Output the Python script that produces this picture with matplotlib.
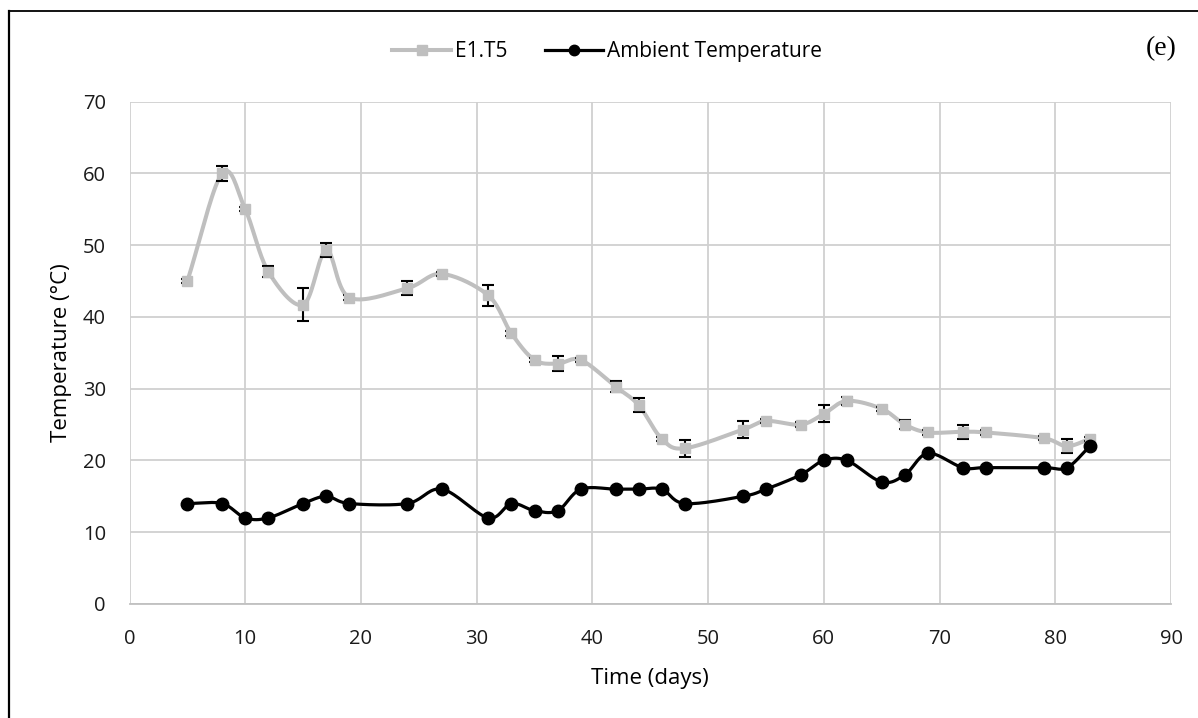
import numpy as np
import matplotlib
matplotlib.use("Agg")
import matplotlib.pyplot as plt
from matplotlib.lines import Line2D

# data
days = [5, 8, 10, 12, 15, 17, 19, 24, 27, 31, 33, 35, 37, 39, 42, 44, 46, 48,
        53, 55, 58, 60, 62, 65, 67, 69, 72, 74, 79, 81, 83]
e1t5 = [45, 60, 55, 46.3, 41.7, 49.3, 42.7, 44, 46, 43, 37.7, 34, 33.5, 34,
        30.3, 27.7, 23, 21.7, 24.3, 25.5, 25, 26.5, 28.3, 27.2, 25, 23.9, 24,
        23.9, 23.1, 22, 23]
e1t5_err = [0.3, 1.1, 0.3, 0.8, 2.3, 1.0, 0.3, 1.0, 0.3, 1.5, 0.3, 0.3, 1.0, 0.3,
            0.8, 1.0, 0.3, 1.2, 1.2, 0.3, 0.3, 1.2, 0.6, 0.3, 0.6, 0.3, 1.0,
            0.3, 0.3, 1.0, 0.3]
ambient = [14, 14, 12, 12, 14, 15, 14, 14, 16, 12, 14, 13, 13, 16, 16, 16, 16,
           14, 15, 16, 18, 20, 20, 17, 18, 21, 19, 19, 19, 19, 22]


def smooth(x, y, n=20):
    # Catmull-Rom style curve like Excel's "smoothed line"
    x = np.asarray(x, float)
    y = np.asarray(y, float)
    px = np.concatenate([[2 * x[0] - x[1]], x, [2 * x[-1] - x[-2]]])
    py = np.concatenate([[2 * y[0] - y[1]], y, [2 * y[-1] - y[-2]]])
    xs, ys = [], []
    t = np.linspace(0, 1, n)
    for i in range(1, len(px) - 2):
        for arr, out in ((px, xs), (py, ys)):
            p0, p1, p2, p3 = arr[i - 1], arr[i], arr[i + 1], arr[i + 2]
            c1 = p1 + (p2 - p0) / 6.0
            c2 = p2 - (p3 - p1) / 6.0
            out.extend((1 - t) ** 3 * p1 + 3 * (1 - t) ** 2 * t * c1
                       + 3 * (1 - t) * t ** 2 * c2 + t ** 3 * p2)
    return np.array(xs), np.array(ys)


plt.rcParams['font.family'] = ['Open Sans', 'DejaVu Sans']

fig = plt.figure(figsize=(11.98, 7.18), dpi=100)
ax = fig.add_axes([0.1081, 0.1588, 0.8694, 0.6996])

grey = '#bfbfbf'
sx, sy = smooth(days, e1t5)
ax.plot(sx, sy, color=grey, lw=2.9, zorder=3)
ax.errorbar(days, e1t5, yerr=e1t5_err, fmt='none', ecolor='black',
            elinewidth=1.5, capsize=4.3, capthick=1.5, zorder=4)
ax.plot(days, e1t5, ls='none', marker='s', ms=7.5, color=grey, zorder=5)

bx, by = smooth(days, ambient)
ax.plot(bx, by, color='black', lw=2.3, zorder=6)
ax.plot(days, ambient, ls='none', marker='o', ms=9, color='black', zorder=7)

ax.set_xlim(0, 90)
ax.set_ylim(0, 70)
ax.set_xticks(np.arange(0, 91, 10))
ax.set_yticks(np.arange(0, 71, 10))
ax.grid(True, color='#d0d0d0', lw=1.3)
ax.set_axisbelow(True)
for s in ['top', 'right', 'left']:
    ax.spines[s].set_visible(False)
ax.spines['bottom'].set_color('#c0c0c0')
ax.spines['bottom'].set_linewidth(1.3)
ax.tick_params(length=0, labelsize=14.5, colors='#1a1a1a')
ax.tick_params(axis='x', pad=18)
ax.tick_params(axis='y', pad=17)
ax.set_xlabel('Time (days)', fontsize=16, labelpad=14)
ax.set_ylabel('Temperature (°C)', fontsize=16, labelpad=8)

handles = [Line2D([], [], color=grey, lw=2.9, marker='s', ms=6.5),
           Line2D([], [], color='black', lw=2.3, marker='o', ms=7.5)]
fig.legend(handles, ['E1.T5', 'Ambient Temperature'], loc='center',
           bbox_to_anchor=(0.507, 0.928), ncol=2, frameon=False, fontsize=15,
           handlelength=2.8, handletextpad=0.2, columnspacing=1.8)

fig.text(0.9825, 0.932, '(e)', ha='right', va='center', fontsize=20,
         family='Liberation Serif')

# page frame: only the left and top edges are visible in the reference
fig.add_artist(Line2D([8.5 / 1198, 8.5 / 1198], [0, 1 - 11 / 718],
                      transform=fig.transFigure, color='black', lw=1.6))
fig.add_artist(Line2D([8.5 / 1198, 1], [1 - 11 / 718, 1 - 11 / 718],
                      transform=fig.transFigure, color='black', lw=1.3))

fig.savefig('out.png', dpi=100)
